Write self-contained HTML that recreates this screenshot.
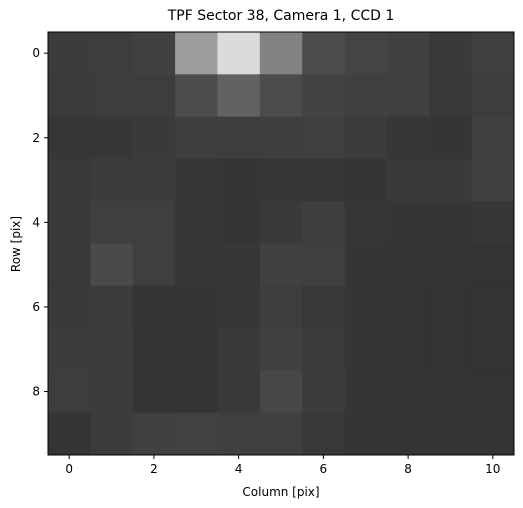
<!DOCTYPE html>
<html><head><meta charset="utf-8">
<style>
html,body{margin:0;padding:0;background:#fff;}
svg{display:block;font-family:"DejaVu Sans","Liberation Sans",sans-serif;}
</style></head>
<body>
<svg id="chart" width="523" height="508" viewBox="0 0 523 508" xmlns="http://www.w3.org/2000/svg">
<text x="281" y="20" text-anchor="middle" font-size="14" fill="#000">TPF Sector 38, Camera 1, CCD 1</text>
<g id="cells"></g>
<g id="axes"></g>
<text x="281" y="496" text-anchor="middle" font-size="12" fill="#000">Column [pix]</text>
<text transform="translate(20,244) rotate(-90)" text-anchor="middle" font-size="12" fill="#000">Row [pix]</text>
</svg>
<script>
const columns = [0,1,2,3,4,5,6,7,8,9,10];
const rows = [0,1,2,3,4,5,6,7,8,9];
const grayLevels = [
 [0x3c,0x3d,0x41,0x9c,0xdb,0x82,0x4c,0x44,0x41,0x3a,0x3f],
 [0x3b,0x3d,0x3d,0x4c,0x62,0x4c,0x43,0x40,0x40,0x38,0x3d],
 [0x36,0x37,0x3a,0x3e,0x3d,0x3e,0x3f,0x3c,0x37,0x35,0x3f],
 [0x39,0x3c,0x3c,0x37,0x35,0x36,0x36,0x35,0x3a,0x3a,0x41],
 [0x3a,0x3f,0x3f,0x37,0x35,0x3a,0x3e,0x36,0x35,0x35,0x37],
 [0x39,0x4a,0x3f,0x37,0x37,0x41,0x3f,0x35,0x34,0x34,0x33],
 [0x39,0x3b,0x35,0x35,0x37,0x3d,0x39,0x35,0x33,0x33,0x33],
 [0x3c,0x3c,0x35,0x35,0x3a,0x41,0x3b,0x35,0x33,0x33,0x33],
 [0x3d,0x3c,0x35,0x34,0x3a,0x47,0x3c,0x35,0x34,0x34,0x33],
 [0x34,0x3c,0x41,0x42,0x3f,0x3f,0x38,0x35,0x34,0x34,0x34]
];
const xTicks = [0,2,4,6,8,10];
const yTicks = [0,2,4,6,8];

const NS = "http://www.w3.org/2000/svg";
const X0=48, X1=514, Y0=32, Y1=455;
const xs = v => X0 + (v + 0.5) * (X1 - X0) / columns.length;
const ys = v => Y0 + (v + 0.5) * (Y1 - Y0) / rows.length;
const cw = (X1 - X0) / columns.length, ch = (Y1 - Y0) / rows.length;
const cells = document.getElementById('cells');
rows.forEach((r, i) => {
  columns.forEach((c, j) => {
    const g = grayLevels[i][j];
    const el = document.createElementNS(NS, 'rect');
    
    
    el.setAttribute('x', xs(c) - cw/2);
    el.setAttribute('y', ys(r) - ch/2);
    el.setAttribute('width', cw + 0.4);
    el.setAttribute('height', ch + 0.4);
    el.setAttribute('fill', `rgb(${g},${g},${g})`);
    cells.appendChild(el);
  });
});
const axes = document.getElementById('axes');
const frame = document.createElementNS(NS, 'rect');


frame.setAttribute('x', X0); frame.setAttribute('y', Y0);
frame.setAttribute('width', X1 - X0); frame.setAttribute('height', Y1 - Y0);
frame.setAttribute('fill', 'none'); frame.setAttribute('stroke', '#000'); frame.setAttribute('stroke-width', '1');
axes.appendChild(frame);
xTicks.forEach(t => {
  const x = xs(t);
  const l = document.createElementNS(NS, 'line');
  
  
  l.setAttribute('x1', x); l.setAttribute('x2', x); l.setAttribute('y1', Y1); l.setAttribute('y2', Y1 + 4);
  l.setAttribute('stroke', '#000');
  axes.appendChild(l);
  const tx = document.createElementNS(NS, 'text');
  
  
  tx.setAttribute('x', x); tx.setAttribute('y', Y1 + 18);
  tx.setAttribute('text-anchor', 'middle'); tx.setAttribute('font-size', '12');
  tx.textContent = t;
  axes.appendChild(tx);
});
yTicks.forEach(t => {
  const y = ys(t);
  const l = document.createElementNS(NS, 'line');
  
  
  l.setAttribute('x1', X0 - 4); l.setAttribute('x2', X0); l.setAttribute('y1', y); l.setAttribute('y2', y);
  l.setAttribute('stroke', '#000');
  axes.appendChild(l);
  const tx = document.createElementNS(NS, 'text');
  
  
  tx.setAttribute('x', X0 - 8); tx.setAttribute('y', y + 4);
  tx.setAttribute('text-anchor', 'end'); tx.setAttribute('font-size', '12');
  tx.textContent = t;
  axes.appendChild(tx);
});
</script>
</body></html>
